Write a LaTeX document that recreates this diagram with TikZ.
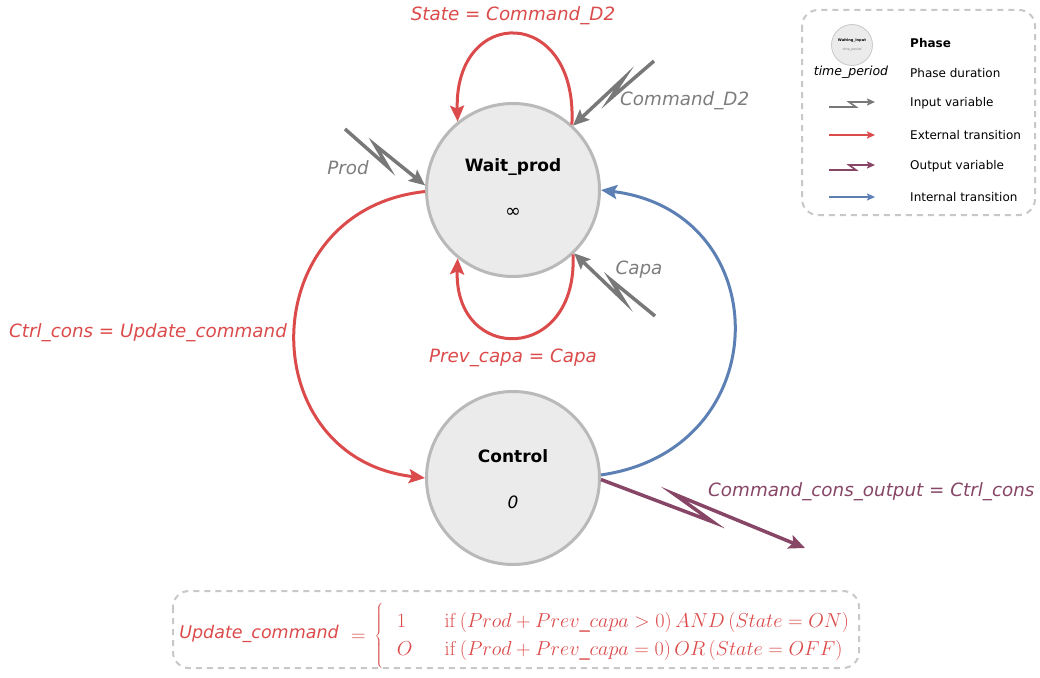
\documentclass[tikz,border=0pt]{standalone}
\usepackage[no-math]{fontspec}
\setmainfont{DejaVu Sans}
\usetikzlibrary{arrows.meta}
\definecolor{cred}{RGB}{219,75,75}
\definecolor{cgrey}{RGB}{120,120,120}
\definecolor{cblue}{RGB}{92,128,180}
\definecolor{cpurple}{RGB}{135,70,102}
\definecolor{cfill}{RGB}{235,235,235}
\definecolor{cborder}{RGB}{185,185,185}
\definecolor{cdash}{RGB}{200,200,200}
\definecolor{clabel}{RGB}{125,125,125}
\begin{document}
\begin{tikzpicture}[x=1pt,y=-1pt,
  phase/.style={circle,draw=cborder,fill=cfill,line width=3pt,minimum size=173pt,inner sep=0pt},
  bigtip/.style={-{Stealth[length=16pt,width=14pt,inset=3pt]}},
  ext/.style={bigtip,draw=cred,line width=3pt},
  intr/.style={bigtip,draw=cblue,line width=3pt},
  inp/.style={bigtip,draw=cgrey,line width=3.5pt,line join=miter},
  outp/.style={bigtip,draw=cpurple,line width=3.5pt,line join=miter},
  lab/.style={font=\fontsize{18.3}{22}\selectfont\itshape,inner sep=0pt},
  ptitle/.style={font=\fontsize{17}{20}\selectfont\bfseries,inner sep=0pt},
  pdur/.style={font=\fontsize{19}{20}\selectfont,inner sep=0pt},
  frame/.style={draw=cdash,line width=2pt,dash pattern=on 6pt off 5pt,rounded corners=16pt},
  legtxt/.style={font=\fontsize{12}{14}\selectfont,anchor=west,inner sep=0pt},
  smalltip/.style={-{Stealth[length=8pt,width=7pt,inset=1.5pt]},line width=1.6pt},
]
\useasboundingbox (0,0) rectangle (1040,677);

% phases
\node[phase] (wait) at (513,190) {};
\node[phase] (ctrl) at (513,478) {};
\node[ptitle] (waitname) at (513,167) {Wait\_prod};
\node[pdur] (waitdur) at (513,213) {∞};
\node[ptitle] (ctrlname) at (513,456) {Control};
\node[pdur,font=\fontsize{17}{20}\selectfont\itshape] (ctrldur) at (513,502) {0};

% self loops
\draw[ext] (wait.48) .. controls (578,5) and (454,5) .. (wait.129);
\node[lab,text=cred] (lstate) at (513,16) {State = Command\_D2};
\draw[ext] (wait.-47) .. controls (578,364) and (454,364) .. (wait.-129);
\node[lab,text=cred] (lprev) at (513,358) {Prev\_capa = Capa};

% external transition Wait_prod -> Control
\draw[ext] (wait.181) .. controls (252,210) and (252,458) .. (ctrl.180);
\node[lab,text=cred] (lctrl) at (148,333) {Ctrl\_cons = Update\_command};

% internal transition Control -> Wait_prod
\draw[intr] (ctrl.2) .. controls (778,450) and (778,212) .. (wait.0);

% inputs
\coordinate (cmdA) at (654,61);
\coordinate (cmdP) at (610,99);
\coordinate (cmdQ) at (624,78);
\draw[inp] (cmdA) -- (cmdP) -- (cmdQ) -- (wait.47);
\node[lab,text=clabel,anchor=west] (lcmd) at (620,101) {Command\_D2};

\coordinate (prodA) at (345,129);
\coordinate (prodP) at (388,167);
\coordinate (prodQ) at (375,145);
\draw[inp] (prodA) -- (prodP) -- (prodQ) -- (wait.177);
\node[lab,text=clabel] (lprod) at (348,168) {Prod};

\coordinate (capaA) at (655,316);
\coordinate (capaP) at (611,280);
\coordinate (capaQ) at (624,301);
\draw[inp] (capaA) -- (capaP) -- (capaQ) -- (wait.-46);
\node[lab,text=clabel] (lcapa) at (639,270) {Capa};

% output
\coordinate (outP) at (713,522);
\coordinate (outQ) at (674,494);
\coordinate (outB) at (805,548);
\draw[outp] (ctrl.-1) -- (outP) -- (outQ) -- (outB);
\node[lab,text=cpurple,anchor=west] (lout) at (708,492) {Command\_cons\_output = Ctrl\_cons};

% formula box
\draw[frame] (173,591) rectangle (859,668);
\node[lab,font=\fontsize{17.5}{21}\selectfont\itshape,text=cred] (upd) at (259,634) {Update\_command};
\node[anchor=west,text=cred,inner sep=0pt,font=\fontsize{20.74}{24}\selectfont] (eq) at (351,636)
  {\scalebox{0.973}{\renewcommand{\arraystretch}{1.2}$=\,\left\{\vcenter{\hbox{\rule{0pt}{66pt}}}\begin{array}{@{\hspace{14pt}}l@{\hspace{33pt}}l}
   1 & \mathrm{if}\,(Prod+Prev\_capa>0)\,AND\,(State=ON)\\
   O & \mathrm{if}\,(Prod+Prev\_capa=0)\,OR\,(State=OFF)
   \end{array}\right.$}};

% legend
\draw[frame] (802,10) rectangle (1035,215);
\node[circle,draw=cdash,fill=cfill,line width=0.8pt,minimum size=41pt,inner sep=0pt] (legc) at (852,45) {};
\node[font=\fontsize{3.6}{4}\selectfont\bfseries,inner sep=0pt] (legcn) at (852,41) {Waiting\_Input};
\node[font=\fontsize{3.2}{4}\selectfont\itshape,text=clabel,inner sep=0pt] (legcd) at (852,50) {time\_period};
\node[font=\fontsize{12.5}{14}\selectfont\itshape,inner sep=0pt] (legtp) at (851,72) {time\_period};
\node[legtxt,font=\fontsize{12}{14}\selectfont\bfseries] (lg1) at (910,43) {Phase};
\node[legtxt] (lg2) at (910,73) {Phase duration};
\node[legtxt] (lg3) at (910,103) {Input variable};
\node[legtxt] (lg4) at (910,135) {External transition};
\node[legtxt] (lg5) at (910,166) {Output variable};
\node[legtxt] (lg6) at (910,197) {Internal transition};

\coordinate (li1) at (829,107); \coordinate (li2) at (856,107);
\coordinate (li3) at (849,102); \coordinate (li4) at (875,102);
\draw[smalltip,cgrey,line join=miter] (li1) -- (li2) -- (li3) -- (li4);
\coordinate (le1) at (829,135); \coordinate (le2) at (875,135);
\draw[smalltip,cred] (le1) -- (le2);
\coordinate (lo1) at (829,170); \coordinate (lo2) at (856,170);
\coordinate (lo3) at (849,165); \coordinate (lo4) at (875,165);
\draw[smalltip,cpurple,line join=miter] (lo1) -- (lo2) -- (lo3) -- (lo4);
\coordinate (ln1) at (829,197); \coordinate (ln2) at (875,197);
\draw[smalltip,cblue] (ln1) -- (ln2);
\end{tikzpicture}
\end{document}
